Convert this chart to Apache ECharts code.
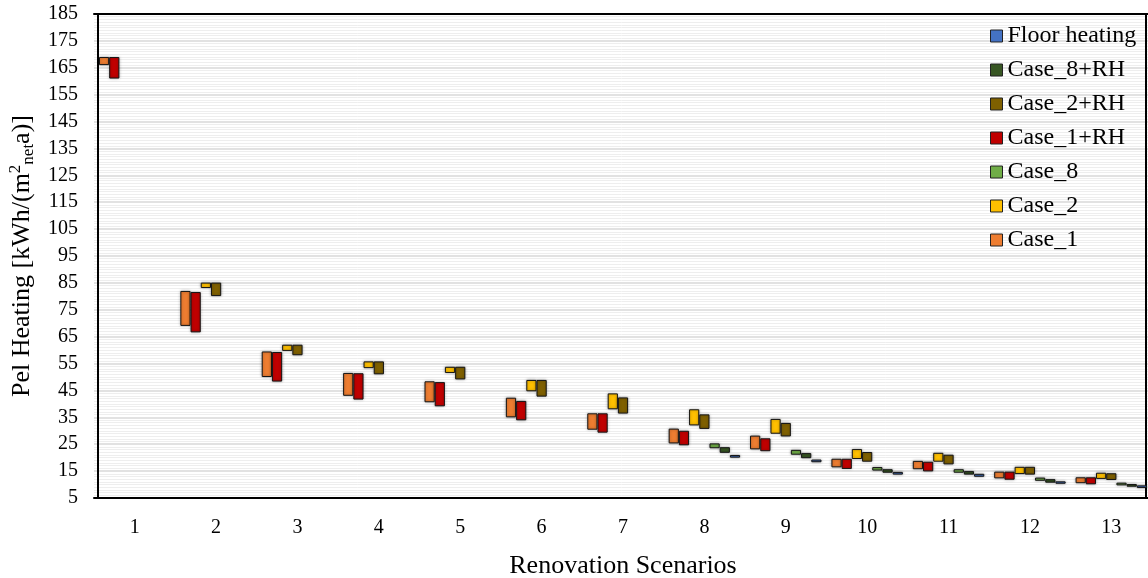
<!DOCTYPE html>
<html><head><meta charset="utf-8">
<script src="https://cdn.jsdelivr.net/npm/echarts@6/dist/echarts.min.js"></script>
<style>html,body{margin:0;padding:0;background:#fff}#c{width:1148px;height:578px}</style>
</head><body><div id="c"></div>
<script>
// Categories (renovation scenarios)
const categories = ['1','2','3','4','5','6','7','8','9','10','11','12','13'];
const yTicks = { min: 5, max: 185, interval: 10 };

// Each entry: [low, high] of the floating bar, null = no bar
const case1 = [[166,169],[69,82],[50,59.5],[43,51.5],[40.6,48.4],[35,42.3],[30.4,36.5],[25.3,30.8],[23.1,28.2],[16.4,19.6],[15.7,18.8],[12.3,14.8],[10.5,12.7]];
const case1RH = [[161,169],[66.6,81.6],[48.3,59.3],[41.6,51.4],[39.1,48.1],[33.9,41.1],[29.3,36.5],[24.6,30.0],[22.4,27.2],[15.8,19.6],[14.9,18.5],[11.8,14.8],[10.1,12.7]];
const case2 = [null,[83.1,85.1],[59.7,62.0],[53.3,55.8],[51.5,53.8],[44.7,48.9],[38.0,43.9],[32.0,38.0],[28.9,34.4],[19.5,23.2],[18.5,21.8],[13.9,16.6],[12.1,14.4]];
const case2RH = [null,[80.1,85.1],[58.1,62.0],[51.0,55.8],[49.1,53.8],[42.7,48.9],[36.4,42.4],[30.7,36.1],[27.9,32.9],[18.5,22.1],[17.5,21.1],[13.7,16.6],[11.7,14.2]];
const case8 = [null,null,null,null,null,null,null,[23.5,25.3],[21.1,22.9],[15.2,16.5],[14.4,15.7],[11.4,12.6],[9.7,10.7]];
const case8RH = [null,null,null,null,null,null,null,[21.8,23.9],[19.8,21.7],[14.4,15.7],[13.7,15.0],[10.7,12.0],[9.2,10.2]];
const floorHeating = [null,null,null,null,null,null,null,[20.0,21.0],[18.3,19.3],[13.7,14.7],[12.9,14.0],[10.3,11.2],[8.7,9.7]];

const legendOrder = ['Floor heating','Case_8+RH','Case_2+RH','Case_1+RH','Case_8','Case_2','Case_1'];

const FONT = '"Liberation Serif", "Times New Roman", serif';
const defs = [
  { name: 'Case_1', data: case1, color: '#ED7D31' },
  { name: 'Case_1+RH', data: case1RH, color: '#C00000' },
  { name: 'Case_2', data: case2, color: '#FFC000' },
  { name: 'Case_2+RH', data: case2RH, color: '#7F6000' },
  { name: 'Case_8', data: case8, color: '#70AD47' },
  { name: 'Case_8+RH', data: case8RH, color: '#375623' },
  { name: 'Floor heating', data: floorHeating, color: '#4472C4' }
];

const series = [];
defs.forEach(d => {
  series.push({
    name: d.name + '_base', type: 'bar', stack: d.name, silent: true,
    barGap: '0%', barCategoryGap: '12.2%',
    itemStyle: { color: 'rgba(0,0,0,0)' },
    data: d.data.map(v => v ? v[0] : null)
  });
  series.push({
    name: d.name, type: 'bar', stack: d.name,
    barGap: '0%', barCategoryGap: '12.2%',
    itemStyle: { color: d.color, borderColor: '#151515', borderWidth: 1,
      shadowBlur: 3, shadowColor: 'rgba(0,0,0,0.35)' },
    data: d.data.map(v => v ? +(v[1] - v[0]).toFixed(2) : null)
  });
});

const chart = echarts.init(document.getElementById('c'), null, { renderer: 'canvas' });
chart.setOption({
  animation: false,
  backgroundColor: '#fff',
  grid: { left: 94, right: -4, top: 14, bottom: 80, show: false, containLabel: false, outerBoundsMode: 'none' },
  legend: {
    data: legendOrder, orient: 'vertical', left: 990, top: 24,
    itemWidth: 12, itemHeight: 12, itemGap: 10, padding: 0, icon: 'rect',
    itemStyle: { shadowBlur: 0, borderColor: '#222', borderWidth: 1 },
    textStyle: { fontFamily: FONT, fontSize: 24, lineHeight: 24, color: '#000' }
  },
  xAxis: [{
    type: 'category', data: categories,
    name: 'Renovation Scenarios', nameLocation: 'middle', nameGap: 55,
    nameTextStyle: { fontFamily: FONT, fontSize: 26, color: '#000' },
    axisLine: { lineStyle: { color: '#000', width: 2 } },
    axisTick: { show: false },
    axisLabel: { fontFamily: FONT, fontSize: 20, color: '#000', margin: 20 },
    splitLine: { show: false }
  }, {
    type: 'category', data: categories, position: 'top',
    axisLine: { lineStyle: { color: '#000', width: 2 } },
    axisTick: { show: false }, axisLabel: { show: false }, splitLine: { show: false }
  }],
  yAxis: [{
    type: 'value', min: yTicks.min, max: yTicks.max, interval: yTicks.interval, offset: -4,
    name: '{a|Pel Heating [kWh/(m}{sup|2}{sub|net}{a|a)]}',
    nameLocation: 'middle', nameRotate: 90, nameGap: 60,
    nameTextStyle: {
      fontFamily: FONT, fontSize: 26, color: '#000',
      rich: {
        a: { fontFamily: FONT, fontSize: 26, lineHeight: 30, color: '#000' },
        sup: { fontFamily: FONT, fontSize: 17, lineHeight: 17, verticalAlign: 'top', color: '#000' },
        sub: { fontFamily: FONT, fontSize: 17, lineHeight: 17, verticalAlign: 'bottom', color: '#000' }
      }
    },
    axisLine: { show: true, lineStyle: { color: '#000', width: 2 } },
    axisTick: { show: false },
    axisLabel: { fontFamily: FONT, fontSize: 20, color: '#000', margin: 20 },
    splitLine: { show: true, lineStyle: { color: '#d9d9d9', width: 1.5 } },
    minorTick: { show: false, splitNumber: 10 },
    minorSplitLine: { show: true, lineStyle: { color: '#eeeeee', width: 1 } }
  }, {
    type: 'value', min: yTicks.min, max: yTicks.max, interval: yTicks.interval,
    position: 'right', offset: -6,
    axisLine: { show: true, lineStyle: { color: '#000', width: 2 } },
    axisTick: { show: false }, axisLabel: { show: false }, splitLine: { show: false }
  }],
  series: series
});
</script>
</body></html>
